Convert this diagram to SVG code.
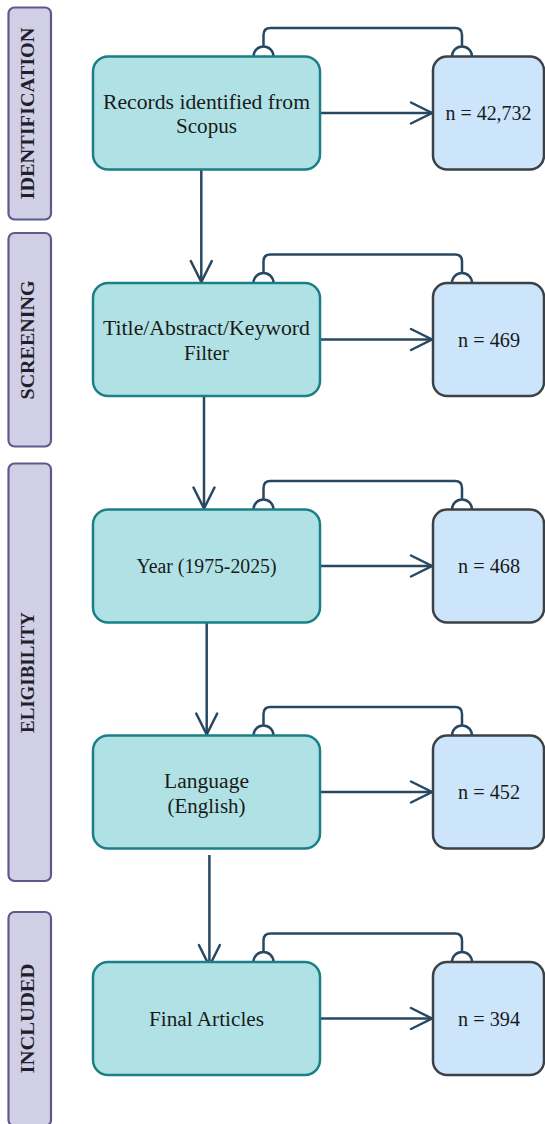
<svg xmlns="http://www.w3.org/2000/svg" width="545" height="1124" viewBox="0 0 545 1124">
<style>
.lbl rect{fill:#d1cfe5;stroke:#5e5a8b;stroke-width:2.2}
.lbl text{font-family:"Liberation Serif",serif;font-weight:bold;font-size:19.5px;fill:#1f1f2e;text-anchor:middle}
.step rect{fill:#b0e2e5;stroke:#1b7f87;stroke-width:2.5}
.cnt rect{fill:#cce5fb;stroke:#3c4146;stroke-width:2.5}
.step text,.cnt text{font-family:"Liberation Serif",serif;font-size:20px;fill:#1a1a1a;text-anchor:middle}
.con path{fill:none;stroke:#284862;stroke-width:2.5}
.con .arr{marker-end:url(#ah)}
</style>
<defs>
<marker id="ah" viewBox="-24 -13 26 26" refX="0" refY="0" markerWidth="26" markerHeight="26" markerUnits="userSpaceOnUse" orient="auto" overflow="visible">
<path d="M-21,-10.5 L0,0 L-21,10.5" fill="none" stroke="#284862" stroke-width="2.5" stroke-linecap="round"/>
</marker>
</defs>

<g id="label-identification" class="lbl"><rect x="8.5" y="7.5" width="42.5" height="212" rx="6"/><text transform="translate(33.5,113.5) rotate(-90)" textLength="172" lengthAdjust="spacingAndGlyphs">IDENTIFICATION</text></g>
<g id="label-screening" class="lbl"><rect x="8.5" y="233" width="42.5" height="213.5" rx="6"/><text transform="translate(33.5,340) rotate(-90)" textLength="119" lengthAdjust="spacingAndGlyphs">SCREENING</text></g>
<g id="label-eligibility" class="lbl"><rect x="8.5" y="463.5" width="42.5" height="417.5" rx="6"/><text transform="translate(33.5,672.5) rotate(-90)" textLength="121" lengthAdjust="spacingAndGlyphs">ELIGIBILITY</text></g>
<g id="label-included" class="lbl"><rect x="8.5" y="912" width="42.5" height="214" rx="6"/><text transform="translate(33.5,1018.5) rotate(-90)" textLength="110" lengthAdjust="spacingAndGlyphs">INCLUDED</text></g>

<g id="connectors" class="con">
<path class="arr" d="M201.3,169.5 L201.3,282"/>
<path class="arr" d="M204,396 L204,508.5"/>
<path class="arr" d="M206.7,622.5 L206.7,734.5"/>
<path class="arr" d="M209.4,855 L209.4,966"/>
<path class="arr" d="M320.5,113 L432,113"/>
<path class="arr" d="M320.5,339.5 L432,339.5"/>
<path class="arr" d="M320.5,566 L432,566"/>
<path class="arr" d="M320.5,792 L432,792"/>
<path class="arr" d="M320.5,1018.5 L432,1018.5"/>
<path d="M253.5,56.5 A10,10 0 0 1 273.5,56.5 M452,56.5 A10,10 0 0 1 472,56.5 M263.5,46.5 L263.5,35 Q263.5,28 270.5,28 L455,28 Q462,28 462,35 L462,46.5"/>
<path d="M253.5,283 A10,10 0 0 1 273.5,283 M452,283 A10,10 0 0 1 472,283 M263.5,273 L263.5,261.5 Q263.5,254.5 270.5,254.5 L455,254.5 Q462,254.5 462,261.5 L462,273"/>
<path d="M253.5,509.5 A10,10 0 0 1 273.5,509.5 M452,509.5 A10,10 0 0 1 472,509.5 M263.5,499.5 L263.5,488 Q263.5,481 270.5,481 L455,481 Q462,481 462,488 L462,499.5"/>
<path d="M253.5,735.5 A10,10 0 0 1 273.5,735.5 M452,735.5 A10,10 0 0 1 472,735.5 M263.5,725.5 L263.5,714 Q263.5,707 270.5,707 L455,707 Q462,707 462,714 L462,725.5"/>
<path d="M253.5,962 A10,10 0 0 1 273.5,962 M452,962 A10,10 0 0 1 472,962 M263.5,952 L263.5,940.5 Q263.5,933.5 270.5,933.5 L455,933.5 Q462,933.5 462,940.5 L462,952"/>
</g>

<g id="step-records" class="step"><rect x="93" y="56.5" width="227" height="113" rx="15"/><text x="206.5" y="108.5" textLength="207" lengthAdjust="spacingAndGlyphs">Records identified from</text><text x="206.5" y="133" textLength="61" lengthAdjust="spacingAndGlyphs">Scopus</text></g>
<g id="step-filter" class="step"><rect x="93" y="283" width="227" height="113" rx="15"/><text x="206.5" y="335" textLength="207" lengthAdjust="spacingAndGlyphs">Title/Abstract/Keyword</text><text x="206.5" y="359.5" textLength="45" lengthAdjust="spacingAndGlyphs">Filter</text></g>
<g id="step-year" class="step"><rect x="93" y="509.5" width="227" height="113" rx="15"/><text x="206.5" y="573" textLength="140" lengthAdjust="spacingAndGlyphs">Year (1975-2025)</text></g>
<g id="step-language" class="step"><rect x="93" y="735.5" width="227" height="113" rx="15"/><text x="206.5" y="788" textLength="85" lengthAdjust="spacingAndGlyphs">Language</text><text x="206.5" y="812.5" textLength="78" lengthAdjust="spacingAndGlyphs">(English)</text></g>
<g id="step-final" class="step"><rect x="93" y="962" width="227" height="113" rx="15"/><text x="206.5" y="1025.5" textLength="115" lengthAdjust="spacingAndGlyphs">Final Articles</text></g>

<g id="count-1" class="cnt"><rect x="433" y="56.5" width="111" height="113" rx="14"/><text x="488.5" y="120" textLength="86" lengthAdjust="spacingAndGlyphs">n = 42,732</text></g>
<g id="count-2" class="cnt"><rect x="433" y="283" width="111" height="113" rx="14"/><text x="489" y="346.5" textLength="62" lengthAdjust="spacingAndGlyphs">n = 469</text></g>
<g id="count-3" class="cnt"><rect x="433" y="509.5" width="111" height="113" rx="14"/><text x="489" y="573" textLength="62" lengthAdjust="spacingAndGlyphs">n = 468</text></g>
<g id="count-4" class="cnt"><rect x="433" y="735.5" width="111" height="113" rx="14"/><text x="489" y="799" textLength="62" lengthAdjust="spacingAndGlyphs">n = 452</text></g>
<g id="count-5" class="cnt"><rect x="433" y="962" width="111" height="113" rx="14"/><text x="489" y="1025.5" textLength="62" lengthAdjust="spacingAndGlyphs">n = 394</text></g>
</svg>
